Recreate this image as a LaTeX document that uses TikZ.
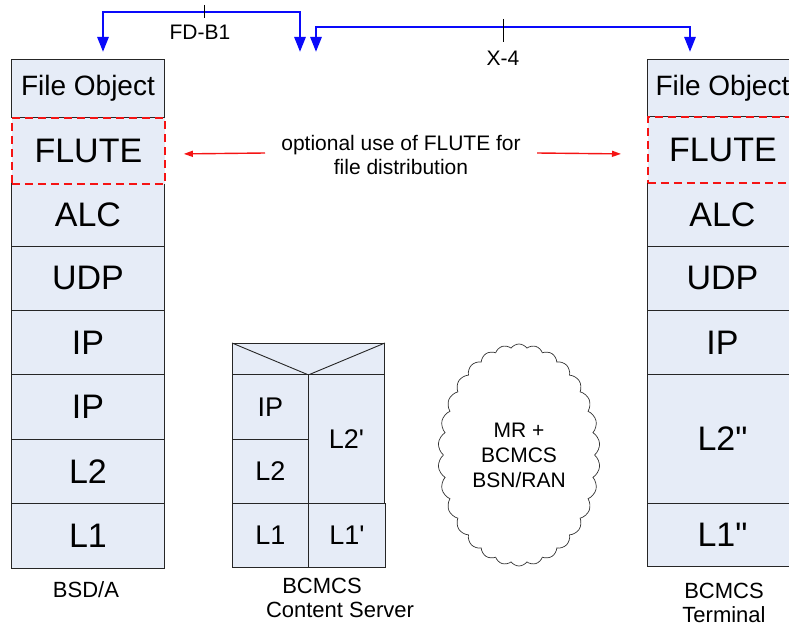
\documentclass[tikz,border=0pt]{standalone}
\usepackage{fontspec}
\setmainfont{Liberation Sans}[Ligatures=TeXOff]
\usetikzlibrary{arrows.meta,shapes.symbols,calc}
\definecolor{layerfill}{RGB}{230,236,247}
\definecolor{ifblue}{RGB}{10,10,250}
\definecolor{optred}{RGB}{245,20,20}
\newcommand\LayerBig{\fontsize{34}{40}\selectfont}
\newcommand\LayerFO{\fontsize{28}{32}\selectfont}
\newcommand\LayerMid{\fontsize{27}{32}\selectfont}
\newcommand\LabelFont{\fontsize{22}{24}\selectfont}
\newcommand\SmallFont{\fontsize{21}{24}\selectfont}
\begin{document}
\begin{tikzpicture}[x=1pt,y=-1pt,
  layer/.style={draw=black!85, line width=0.9pt, fill=layerfill, inner sep=0pt, anchor=north west, font=\LayerBig},
  flute/.style={draw=optred, dash pattern=on 8pt off 5pt, line width=1.8pt, fill=layerfill, inner sep=0pt, anchor=north west, font=\LayerBig},
  iface/.style={draw=ifblue, line width=2.7pt, {Triangle[length=15pt,width=11pt]}-{Triangle[length=15pt,width=11pt]}},
  optarrow/.style={draw=optred, line width=1.4pt, -{Triangle[length=9pt,width=6pt]}},
  tick/.style={draw=black, line width=0.8pt},
  lbl/.style={font=\LabelFont, inner sep=0pt},
  sml/.style={font=\SmallFont, inner sep=0pt, align=center}]
\useasboundingbox (0,0) rectangle (789,626);

% left stack (BSD/A)
\node[layer, font=\LayerFO, minimum width=153pt, minimum height=58pt] (aFO) at (11,59) {File Object};
\node[layer, minimum width=153pt, minimum height=63pt] (aALC) at (11,183) {ALC};
\node[layer, minimum width=153pt, minimum height=64pt] (aUDP) at (11,246) {UDP};
\node[layer, minimum width=153pt, minimum height=64pt] (aIP1) at (11,310) {IP};
\node[layer, minimum width=153pt, minimum height=65pt] (aIP2) at (11,374) {IP};
\node[layer, minimum width=153pt, minimum height=64pt] (aL2) at (11,439) {L2};
\node[layer, minimum width=153pt, minimum height=65pt] (aL1) at (11,503) {L1};

% right stack (Terminal)
\node[layer, font=\LayerFO, minimum width=150pt, minimum height=57pt] (bFO) at (647,59) {File Object};
\node[layer, minimum width=150pt, minimum height=64pt] (bALC) at (647,182) {ALC};
\node[layer, minimum width=150pt, minimum height=64pt] (bUDP) at (647,246) {UDP};
\node[layer, minimum width=150pt, minimum height=64pt] (bIP) at (647,310) {IP};
\node[layer, minimum width=150pt, minimum height=129pt] (bL2) at (647,374) {L2\symbol{34}};
\node[layer, minimum width=150pt, minimum height=63pt] (bL1) at (647,503) {L1\symbol{34}};

% FLUTE layers (dashed, on top)
\node[flute, minimum width=153pt, minimum height=66pt] (aFL) at (11,117) {FLUTE};
\node[flute, minimum width=150pt, minimum height=66pt] (bFL) at (647,116) {FLUTE};

% content server
\node[layer, minimum width=152pt, minimum height=31pt] (cHdr) at (232,343) {};
\draw[draw=black!85, line width=0.9pt] (cHdr.north west) -- (cHdr.south) -- (cHdr.north east);
\node[layer, font=\LayerMid, minimum width=76pt, minimum height=65pt] (cIP) at (232,374) {IP};
\node[layer, font=\LayerMid, minimum width=76pt, minimum height=64pt] (cL2) at (232,439) {L2};
\node[layer, font=\LayerMid, minimum width=76pt, minimum height=129pt] (cL2p) at (308,374) {L2\symbol{39}};
\node[layer, font=\LayerMid, minimum width=76pt, minimum height=64pt] (cL1) at (232,503) {L1};
\node[layer, font=\LayerMid, minimum width=77pt, minimum height=64pt] (cL1p) at (308,503) {L1\symbol{39}};

% cloud
\node[cloud, draw=black!80, line width=0.7pt, cloud puffs=30, cloud puff arc=110,
      minimum width=162pt, minimum height=222pt, aspect=0.73, align=center,
      font=\SmallFont, inner sep=0pt] (net) at (519,455) {MR +\\[1pt]BCMCS\\[1pt]BSN/RAN};

% labels
\node[lbl] (bsdLbl) at (86,590) {BSD/A};
\node[lbl] (csLbl1) at (322,586) {BCMCS};
\node[lbl] (csLbl2) at (340,610) {Content Server};
\node[lbl, align=center] (tmLbl) at (724,603) {BCMCS\\Terminal};

% interfaces
\coordinate (fdL) at (103,52);
\coordinate (fdM) at (300,52);
\coordinate (x4M) at (316,52);
\coordinate (x4R) at (690,52);
\draw[iface] (fdM) -- ++(0,-40) -| (fdL);
\draw[iface] (x4M) -- ++(0,-25) -| (x4R);
\draw[tick] (204,5) -- (204,18);
\draw[tick] (503,19) -- (503,42);
\node[sml] (fdLbl) at (200,32) {FD-B1};
\node[sml] (x4Lbl) at (503,58) {X-4};

% optional FLUTE note
\node[sml] (opt) at (401,155) {optional use of FLUTE for\\file distribution};
\coordinate (oL) at (265,153);
\coordinate (oR) at (537,153);
\draw[optarrow] (oL) -- ($(aFL.east)+(18,3)$);
\draw[optarrow] (oR) -- ($(bFL.west)+(-26,4)$);
\end{tikzpicture}
\end{document}
